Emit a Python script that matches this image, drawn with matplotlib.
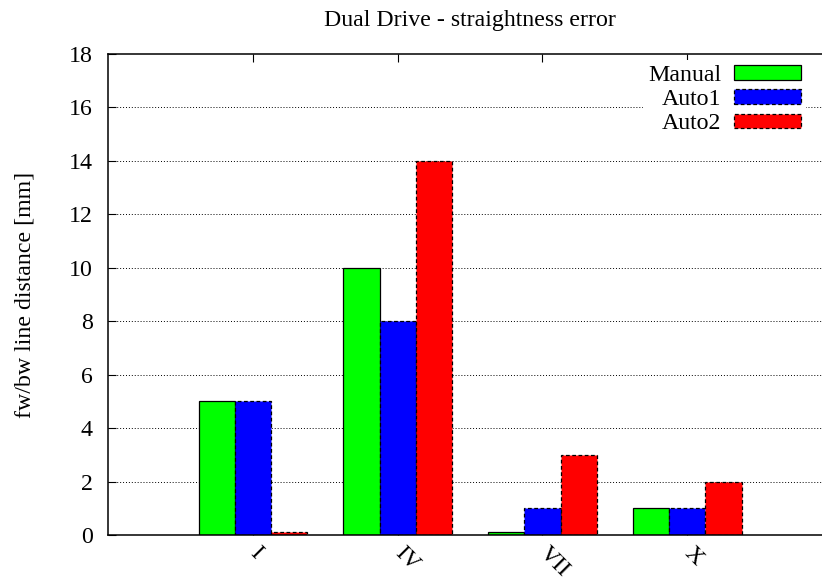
import matplotlib
matplotlib.use("Agg")
import matplotlib.pyplot as plt
import numpy as np

categories = ["I", "IV", "VII", "X"]
manual = [5, 10, 0.1, 1]
auto1 = [5, 8, 1, 1]
auto2 = [0.1, 14, 3, 2]
series_names = ["Manual", "Auto1", "Auto2"]
yticks = [0, 2, 4, 6, 8, 10, 12, 14, 16, 18]

plt.rcParams['font.family'] = ['Liberation Serif', 'DejaVu Serif']
FS = 17.2

fig = plt.figure(figsize=(8.22, 5.82), dpi=100)
ax = fig.add_axes([108/822, 1-535/582, (832-108)/822, (535-54)/582])

x = np.arange(len(categories))
w = 0.25
styles = [
    dict(color="#00ff00", ls="-"),
    dict(color="#0000ff", ls=(0, (3, 2))),
    dict(color="#ff0000", ls=(0, (3, 2))),
]
for j, (vals, name, st) in enumerate(zip([manual, auto1, auto2], series_names, styles)):
    ax.bar(x + (j - 1) * w, vals, width=w, color=st["color"], edgecolor="black",
           linewidth=0.9, linestyle=st["ls"], label=name, zorder=2)

ax.set_xlim(-1, 4)
ax.set_ylim(0, 18)
ax.set_yticks(yticks)
ax.set_yticklabels([str(v) for v in yticks], fontsize=FS)
ax.set_xticks(x)
ax.set_xticklabels(categories, fontsize=FS, rotation=-45, ha='left', va='center',
                   rotation_mode='anchor')
ax.tick_params(axis='x', which='both', direction='in', length=6, top=True, bottom=True, pad=11)
ax.tick_params(axis='y', which='both', direction='in', length=6, left=True, right=True, pad=11)

ax.grid(axis='y', linestyle=(0, (1, 2)), color='black', linewidth=0.7)
ax.set_axisbelow(True)
gls = ax.get_ygridlines()
gls[0].set_visible(False)
gls[-1].set_visible(False)

for s in ax.spines.values():
    s.set_linewidth(1.1)

ax.set_ylabel("fw/bw line distance [mm]", fontsize=FS, labelpad=24)
ax.set_title("Dual Drive - straightness error", fontsize=FS, pad=20)

leg = ax.legend(loc='upper right', bbox_to_anchor=(806/822, 1-60/582),
                bbox_transform=fig.transFigure, markerfirst=False,
                fontsize=FS, frameon=True, fancybox=False, framealpha=1,
                handlelength=2.8, handleheight=0.55, labelspacing=0.14,
                handletextpad=0.55, borderpad=0.2, borderaxespad=0)
leg.get_frame().set_edgecolor('none')
leg.get_frame().set_facecolor('white')

fig.savefig("out.png", dpi=100)
